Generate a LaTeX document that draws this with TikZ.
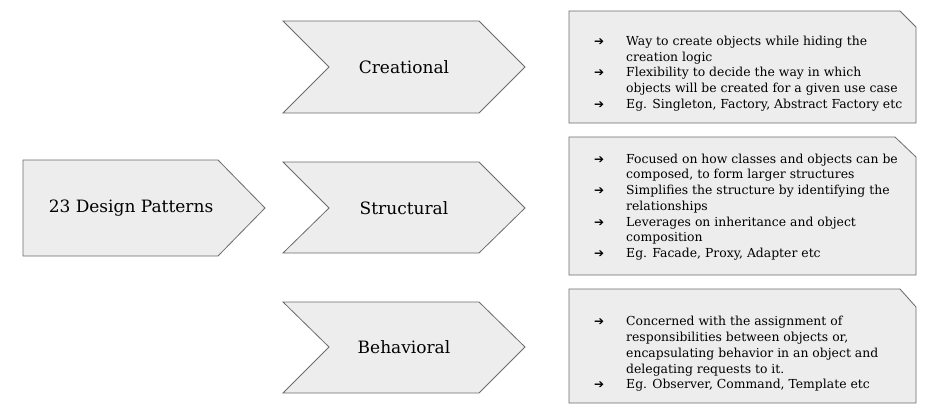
\documentclass[tikz,border=0pt]{standalone}
\usepackage{fontspec}
\setmainfont{DejaVu Serif}
\newfontfamily\arrowfont{DejaVu Sans}
\newcommand{\notebullet}{\makebox[32pt][l]{\arrowfont\fontsize{12}{12}\selectfont ➔}}
\newcommand{\noteindent}{\hspace*{32pt}}
\begin{document}
\begin{tikzpicture}[x=1pt,y=-1pt]

      \tikzset{panel/.style={draw=black!58, fill=black!7, line width=0.8pt, line join=miter},
               title/.style={font=\fontsize{17}{20}\selectfont, text=black},
               notes/.style={align=left, anchor=west, inner sep=0pt, font=\fontsize{12.4}{15.7}\selectfont, text=black}}

      \useasboundingbox (0,0) rectangle (929,418);
%% Arrow shapes
      	\draw[panel] (23,160) -- (218,160) -- (265,208) -- (218,256) -- (23,256) -- cycle;
      	\draw[panel] (283,21) -- (479,21) -- (525,67) -- (479,113) -- (283,113) -- (329,67) -- cycle;
      	\draw[panel] (283,162) -- (479,162) -- (525,208) -- (479,253) -- (283,253) -- (329,208) -- cycle;
      	\draw[panel] (283,302) -- (479,302) -- (525,347) -- (479,393) -- (283,393) -- (329,347) -- cycle;
%% Note boxes
      	\draw[panel] (569,11) -- (900,11) -- (916,27) -- (916,123) -- (569,123) -- cycle;
      	\draw[panel] (569,137) -- (895,137) -- (916,157) -- (916,275) -- (569,275) -- cycle;
      	\draw[panel] (569,289) -- (900,289) -- (916,307) -- (916,403) -- (569,403) -- cycle;
%Labels
      	\node[title] (patterns) at (131,208) {23 Design Patterns};
      	\node[title] (creational) at (404,67) {Creational};
      	\node[title] (structural) at (404,208) {Structural};
      	\node[title] (behavioral) at (404,347) {Behavioral};
%Notes
      	\node[notes] (creationalnotes) at (594,73.5) {\notebullet Way to create objects while hiding the\\
      	  \noteindent creation logic\\
      	  \notebullet Flexibility to decide the way in which\\
      	  \noteindent objects will be created for a given use case\\
      	  \notebullet Eg. Singleton, Factory, Abstract Factory etc};
      	\node[notes] (structuralnotes) at (594,207) {\notebullet Focused on how classes and objects can be\\
      	  \noteindent composed, to form larger structures\\
      	  \notebullet Simplifies the structure by identifying the\\
      	  \noteindent relationships\\
      	  \notebullet Leverages on inheritance and object\\
      	  \noteindent composition\\
      	  \notebullet Eg. Facade, Proxy, Adapter etc};
      	\node[notes] (behavioralnotes) at (594,354) {\notebullet Concerned with the assignment of\\
      	  \noteindent responsibilities between objects or,\\
      	  \noteindent encapsulating behavior in an object and\\
      	  \noteindent delegating requests to it.\\
      	  \notebullet Eg. Observer, Command, Template etc};

	\end{tikzpicture}
\end{document}
